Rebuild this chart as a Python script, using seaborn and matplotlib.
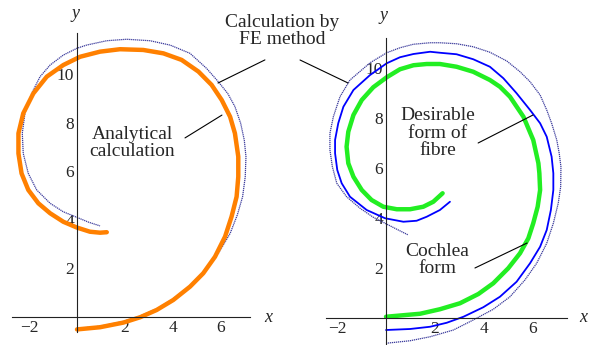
import numpy as np
import matplotlib
matplotlib.use("Agg")
import matplotlib.pyplot as plt
import seaborn as sns
from matplotlib.ticker import MultipleLocator, FixedLocator

# =========================
# DATA
# =========================

# left panel: analytical calculation (orange)
ana_x = [0.0, 0.96, 1.93, 2.63, 3.32, 4.01, 4.71, 5.26, 5.75, 6.17, 6.44, 6.65, 6.72, 6.72,
         6.58, 6.38, 6.03, 5.61, 5.06, 4.36, 3.60, 2.76, 1.79, 0.96, 0.13, -0.57, -1.26,
         -1.82, -2.24, -2.44, -2.44, -2.31, -2.03, -1.61, -1.12, -0.57, 0.0, 0.54, 0.96, 1.24]
ana_y = [-0.51, -0.42, -0.23, -0.01, 0.29, 0.70, 1.25, 1.80, 2.48, 3.31, 4.13, 4.95, 5.77, 6.60,
         7.56, 8.24, 8.93, 9.55, 10.10, 10.58, 10.85, 10.99, 11.02, 10.92, 10.71, 10.37, 9.89,
         9.20, 8.38, 7.56, 6.73, 5.91, 5.23, 4.68, 4.27, 3.92, 3.68, 3.51, 3.47, 3.49]

# left panel: FE calculation (dotted)
fe1_x = [0.0, 0.96, 1.93, 2.63, 3.32, 4.01, 4.71, 5.33, 5.89, 6.38, 6.68, 6.90, 7.01, 7.04,
         6.97, 6.82, 6.58, 6.28, 5.89, 5.40, 4.71, 3.88, 3.04, 2.07, 1.24, 0.40, 0.0, -0.57,
         -1.12, -1.54, -1.89, -2.17, -2.28, -2.24, -2.03, -1.68, -1.12, -0.57, 0.0, 0.49, 0.96]
fe1_y = [-0.47, -0.38, -0.18, 0.04, 0.34, 0.75, 1.28, 1.91, 2.62, 3.44, 4.20, 4.95, 5.77, 6.60,
         7.28, 7.97, 8.66, 9.20, 9.68, 10.23, 10.85, 11.19, 11.37, 11.43, 11.37, 11.19, 11.06, 10.78,
         10.37, 9.89, 9.20, 8.38, 7.56, 6.73, 5.91, 5.23, 4.68, 4.33, 4.10, 3.90, 3.75]

# right panel: desirable form of fibre (green)
fib_x = [0.0, 1.39, 2.20, 3.02, 3.77, 4.38, 4.99, 5.47, 5.81, 6.01, 6.19, 6.29, 6.26, 6.22,
         6.01, 5.61, 5.06, 4.65, 4.24, 3.56, 2.88, 2.20, 1.66, 1.12, 0.57, 0.03, -0.52, -0.99,
         -1.33, -1.54, -1.61, -1.54, -1.33, -0.99, -0.59, -0.11, 0.44, 0.98, 1.52, 1.93, 2.31]
fib_y = [0.05, 0.17, 0.35, 0.59, 0.96, 1.39, 1.99, 2.59, 3.19, 3.79, 4.45, 5.12, 5.79, 6.19,
         7.12, 8.05, 8.85, 9.25, 9.52, 9.85, 10.05, 10.16, 10.16, 10.11, 9.95, 9.63, 9.23, 8.72,
         8.12, 7.45, 6.85, 6.19, 5.65, 5.12, 4.72, 4.45, 4.35, 4.35, 4.45, 4.65, 4.99]

# right panel: cochlea form (blue)
coc_x = [0.0, 0.98, 1.80, 2.48, 3.16, 3.97, 4.65, 5.33, 5.88, 6.29, 6.56, 6.73, 6.83, 6.83,
         6.76, 6.56, 6.29, 5.88, 5.33, 4.79, 4.24, 3.56, 2.88, 2.20, 1.80, 1.12, 0.57, 0.03,
         -0.65, -1.33, -1.74, -1.95, -2.08, -2.08, -1.99, -1.81, -1.47, -0.79, -0.04, 0.71,
         1.25, 1.66, 2.20, 2.61]
coc_y = [-0.48, -0.44, -0.35, -0.19, 0.05, 0.43, 0.85, 1.45, 2.19, 2.85, 3.52, 4.32, 5.12, 5.79,
         6.45, 7.25, 7.79, 8.32, 8.99, 9.59, 10.05, 10.35, 10.55, 10.61, 10.65, 10.56, 10.43, 10.19,
         9.72, 9.12, 8.45, 7.79, 7.12, 6.59, 5.92, 5.39, 4.85, 4.32, 3.99, 3.85,
         3.89, 4.05, 4.32, 4.65]

# right panel: FE calculation (dotted)
fe2_x = [0.0, 0.98, 1.80, 2.75, 3.56, 4.38, 5.06, 5.67, 6.15, 6.56, 6.83, 7.03, 7.13, 7.14,
         7.07, 6.97, 6.76, 6.56, 6.29, 5.88, 5.47, 4.93, 4.24, 3.56, 2.88, 2.20, 1.80, 1.12,
         0.57, 0.03, -0.65, -1.47, -1.88, -2.15, -2.29, -2.29, -2.19, -2.01, -1.61, -1.06,
         -0.52, -0.04, 0.44, 0.91]
fe2_y = [-1.01, -0.91, -0.75, -0.48, -0.08, 0.35, 0.85, 1.52, 2.19, 2.99, 3.79, 4.59, 5.25, 6.05,
         6.59, 7.12, 7.79, 8.32, 8.92, 9.45, 9.85, 10.28, 10.63, 10.85, 10.97, 11.01, 11.01, 10.95,
         10.81, 10.61, 10.21, 9.52, 8.85, 8.05, 7.39, 6.72, 6.05, 5.39, 4.85, 4.39,
         4.03, 3.79, 3.55, 3.32]

x_ticks = [-2, 2, 4, 6]
y_ticks = [2, 4, 6, 8, 10]

# =========================
# FIGURE
# =========================
sns.set_style("white")
plt.rcParams['font.family'] = ['Liberation Serif', 'DejaVu Serif']

W, H = 593, 345
fig = plt.figure(figsize=(W / 100, H / 100), dpi=100)

def px(x, y):
    return x / W, 1 - y / H

ax1 = fig.add_axes([12.2 / W, (H - 331.6) / H, 237.6 / W, 298.9 / H])
ax2 = fig.add_axes([326 / W, (H - 344.25) / H, 241.3 / W, 306.25 / H])
ax1.set_xlim(-2.7, 7.2)
ax1.set_ylim(-0.6, 11.7)
ax2.set_xlim(-2.45, 7.4)
ax2.set_ylim(-1.05, 11.2)

fe_style = dict(color="#3b3b9c", lw=0.9, linestyle=(0, (1, 0.6)))

sns.lineplot(x=fe1_x, y=fe1_y, sort=False, estimator=None, ax=ax1, **fe_style)
sns.lineplot(x=ana_x, y=ana_y, sort=False, estimator=None, ax=ax1, color="#FF8000", lw=3.2)

sns.lineplot(x=fe2_x, y=fe2_y, sort=False, estimator=None, ax=ax2, **fe_style)
sns.lineplot(x=coc_x, y=coc_y, sort=False, estimator=None, ax=ax2, color="#0000FF", lw=1.3)
sns.lineplot(x=fib_x, y=fib_y, sort=False, estimator=None, ax=ax2, color="#22EE22", lw=3.2)

for ax in (ax1, ax2):
    for s in ("top", "right"):
        ax.spines[s].set_visible(False)
    for s in ("left", "bottom"):
        ax.spines[s].set_position(("data", 0))
        ax.spines[s].set_color("#222222")
        ax.spines[s].set_linewidth(0.8)
    ax.xaxis.set_major_locator(FixedLocator(x_ticks))
    ax.yaxis.set_major_locator(FixedLocator(y_ticks))
    ax.xaxis.set_minor_locator(MultipleLocator(0.5))
    ax.yaxis.set_minor_locator(MultipleLocator(0.5))
    ax.set_xticklabels(["\u22122" if t < 0 else str(t) for t in x_ticks])
    ax.set_yticklabels([str(t) for t in y_ticks])
    ax.tick_params(which="major", direction="in", length=4.5, width=0.7, color="#222222",
                   labelsize=12.5, pad=2)
    ax.tick_params(which="minor", direction="in", length=2.5, width=0.6, color="#222222")
    ax.patch.set_alpha(0)

# axis labels
for (xx, yy, t) in [(268, 318, "x"), (75, 13, "y"), (583, 318, "x"), (383, 15, "y")]:
    fig.text(*px(xx, yy), t, style="italic", fontsize=13, ha="center", va="center")

# annotations
line_kw = dict(arrowstyle="-", color="black", lw=0.8, shrinkA=0, shrinkB=0)
ax1.annotate("", xy=(5.875, 9.63), xytext=(7.83, 10.58), arrowprops=line_kw, annotation_clip=False)
ax2.annotate("", xy=(-1.55, 9.4), xytext=(-3.51, 10.32), arrowprops=line_kw, annotation_clip=False)
ax1.annotate("", xy=(6.04, 8.31), xytext=(4.5, 7.37), arrowprops=line_kw)
ax2.annotate("", xy=(6.0, 8.12), xytext=(3.76, 7.0), arrowprops=line_kw)
ax2.annotate("", xy=(5.76, 3.0), xytext=(3.63, 2.0), arrowprops=line_kw)

txt_kw = dict(fontsize=14, ha="center", va="center", linespacing=1.05)
fig.text(*px(282, 31), "Calculation by\nFE method", **txt_kw)
fig.text(*px(132, 143), "Analytical\ncalculation", **txt_kw)
fig.text(*px(438, 133), "Desirable\nform of\nfibre", **txt_kw)
fig.text(*px(437, 260), "Cochlea\nform", **txt_kw)

fig.savefig("out.png", dpi=100)
